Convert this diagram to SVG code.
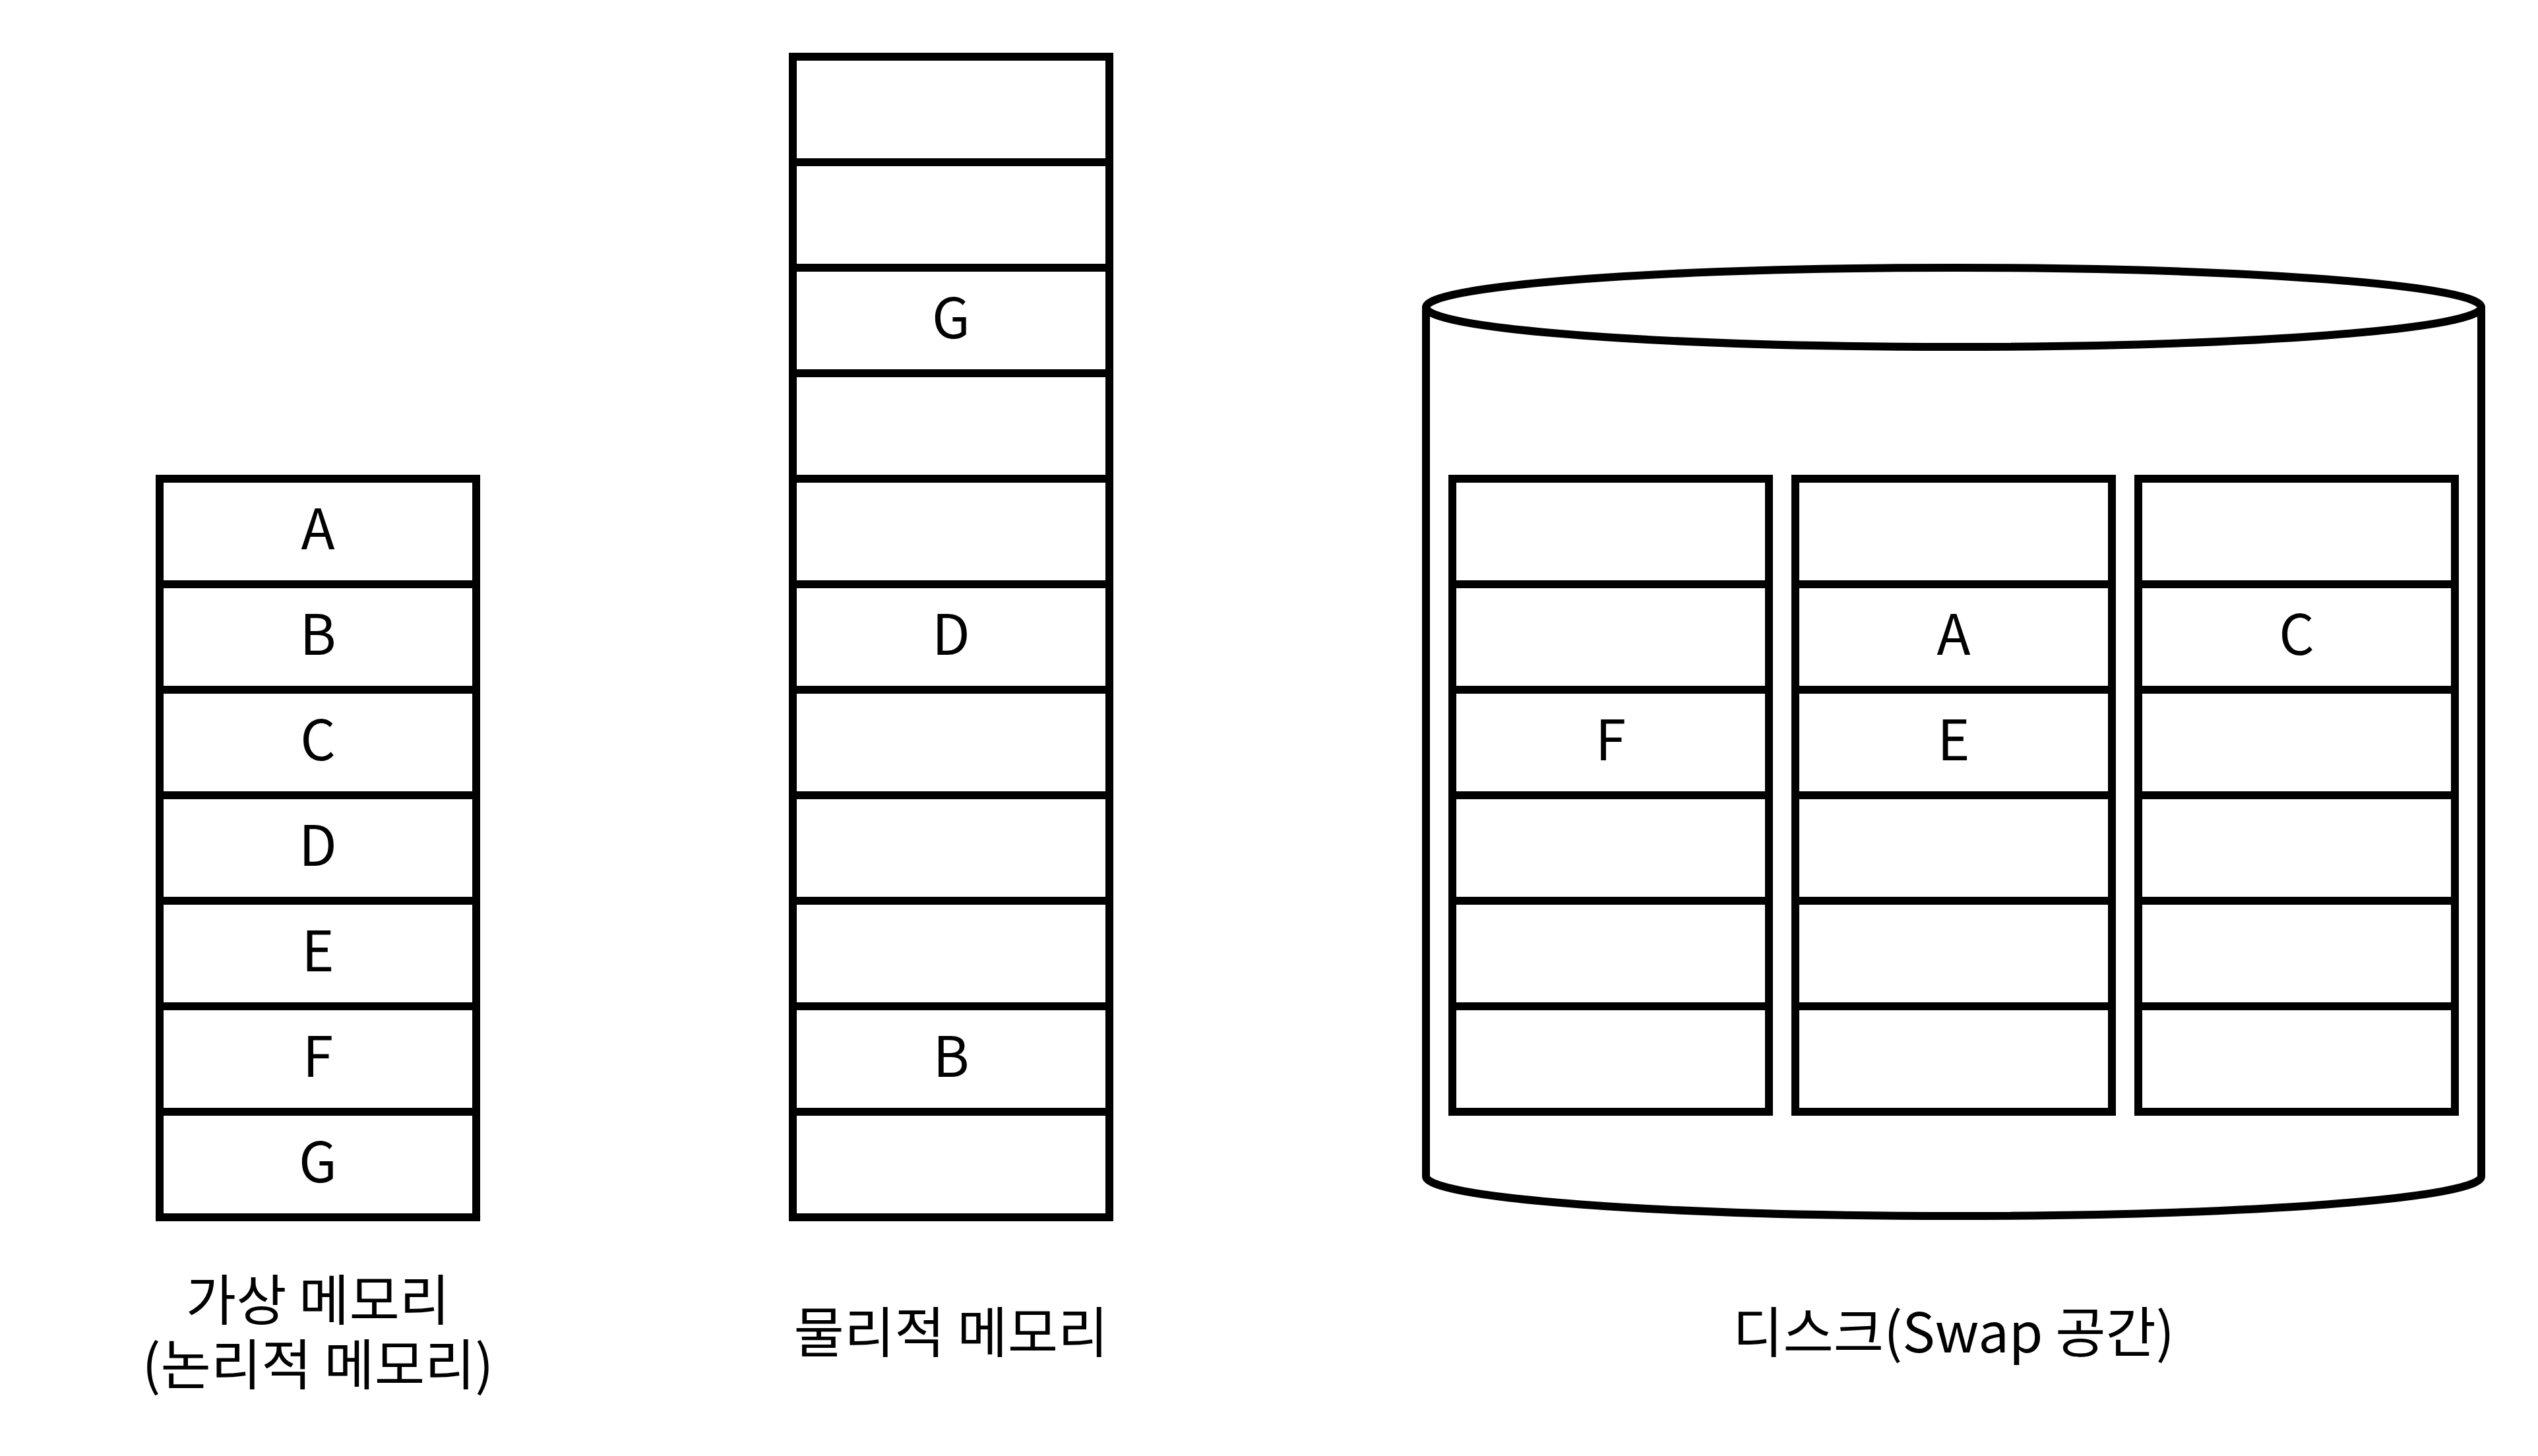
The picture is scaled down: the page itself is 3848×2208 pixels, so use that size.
<svg xmlns="http://www.w3.org/2000/svg" width="3848" height="2208" viewBox="0 0 3848 2208">
<style>
.cell{fill:#fff;stroke:#000;stroke-width:12}
.cyl{fill:#fff;stroke:#000;stroke-width:12}
.lt{font-family:"Noto Sans CJK KR","Noto Sans",sans-serif;font-size:84px;fill:#000;text-anchor:middle}
.lb{font-family:"Noto Sans CJK KR","Noto Sans",sans-serif;font-size:83px;fill:#000;text-anchor:middle}
</style>
<rect width="3848" height="2208" fill="#fff"/>
<g id="virtual-memory">
<rect class="cell" x="242" y="726" width="480" height="160"/>
<rect class="cell" x="242" y="886" width="480" height="160"/>
<rect class="cell" x="242" y="1046" width="480" height="160"/>
<rect class="cell" x="242" y="1206" width="480" height="160"/>
<rect class="cell" x="242" y="1366" width="480" height="160"/>
<rect class="cell" x="242" y="1526" width="480" height="160"/>
<rect class="cell" x="242" y="1686" width="480" height="160"/>
<text class="lt" x="482" y="833">A</text>
<text class="lt" x="482" y="993">B</text>
<text class="lt" x="482" y="1153">C</text>
<text class="lt" x="482" y="1313">D</text>
<text class="lt" x="482" y="1473">E</text>
<text class="lt" x="482" y="1633">F</text>
<text class="lt" x="482" y="1793">G</text>
<text class="lb" x="482" y="2002"><tspan x="482" y="2002">가상 메모리</tspan><tspan x="482" y="2100">(논리적 메모리)</tspan></text>
</g>
<g id="physical-memory">
<rect class="cell" x="1202" y="86" width="480" height="160"/>
<rect class="cell" x="1202" y="246" width="480" height="160"/>
<rect class="cell" x="1202" y="406" width="480" height="160"/>
<rect class="cell" x="1202" y="566" width="480" height="160"/>
<rect class="cell" x="1202" y="726" width="480" height="160"/>
<rect class="cell" x="1202" y="886" width="480" height="160"/>
<rect class="cell" x="1202" y="1046" width="480" height="160"/>
<rect class="cell" x="1202" y="1206" width="480" height="160"/>
<rect class="cell" x="1202" y="1366" width="480" height="160"/>
<rect class="cell" x="1202" y="1526" width="480" height="160"/>
<rect class="cell" x="1202" y="1686" width="480" height="160"/>
<text class="lt" x="1442" y="513">G</text>
<text class="lt" x="1442" y="993">D</text>
<text class="lt" x="1442" y="1633">B</text>
<text class="lb" x="1442" y="2051">물리적 메모리</text>
</g>
<g id="disk">
<path class="cyl" d="M2162,466 A800,60 0 0 1 3762,466 L3762,1784 A800,60 0 0 1 2162,1784 Z"/>
<path class="cyl" fill="none" d="M2162,466 A800,60 0 0 0 3762,466"/>
<g id="disk-col1">
<rect class="cell" x="2202" y="726" width="480" height="160"/>
<rect class="cell" x="2202" y="886" width="480" height="160"/>
<rect class="cell" x="2202" y="1046" width="480" height="160"/>
<rect class="cell" x="2202" y="1206" width="480" height="160"/>
<rect class="cell" x="2202" y="1366" width="480" height="160"/>
<rect class="cell" x="2202" y="1526" width="480" height="160"/>
<text class="lt" x="2442" y="1153">F</text>
</g>
<g id="disk-col2">
<rect class="cell" x="2722" y="726" width="480" height="160"/>
<rect class="cell" x="2722" y="886" width="480" height="160"/>
<rect class="cell" x="2722" y="1046" width="480" height="160"/>
<rect class="cell" x="2722" y="1206" width="480" height="160"/>
<rect class="cell" x="2722" y="1366" width="480" height="160"/>
<rect class="cell" x="2722" y="1526" width="480" height="160"/>
<text class="lt" x="2962" y="993">A</text>
<text class="lt" x="2962" y="1153">E</text>
</g>
<g id="disk-col3">
<rect class="cell" x="3242" y="726" width="480" height="160"/>
<rect class="cell" x="3242" y="886" width="480" height="160"/>
<rect class="cell" x="3242" y="1046" width="480" height="160"/>
<rect class="cell" x="3242" y="1206" width="480" height="160"/>
<rect class="cell" x="3242" y="1366" width="480" height="160"/>
<rect class="cell" x="3242" y="1526" width="480" height="160"/>
<text class="lt" x="3482" y="993">C</text>
</g>
<text class="lb" x="2962" y="2051">디스크(Swap 공간)</text>
</g>
<g id="connectors"></g>
</svg>
